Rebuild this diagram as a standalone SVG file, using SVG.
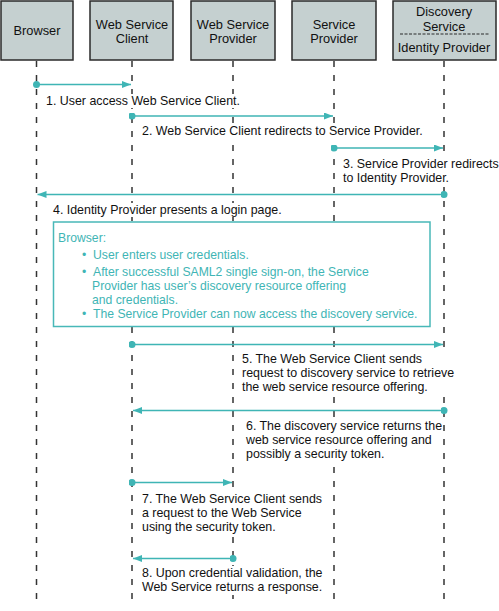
<svg xmlns="http://www.w3.org/2000/svg" width="499" height="611" viewBox="0 0 499 611">
<defs>
<marker id="ah" viewBox="0 0 10 10" refX="10" refY="5" markerWidth="9" markerHeight="7" markerUnits="userSpaceOnUse" orient="auto-start-reverse" preserveAspectRatio="none">
<path d="M0,0 L10,5 L0,10 z" fill="#3fb5b5"/>
</marker>
<marker id="dot" viewBox="0 0 8 8" refX="4" refY="4" markerWidth="7" markerHeight="7" markerUnits="userSpaceOnUse">
<circle cx="4" cy="4" r="4" fill="#3fb5b5"/>
</marker>
</defs>
<style>
.box{fill:#c5d0d0;stroke:#2a2a2a;stroke-width:1.5}
.life{stroke:#333;stroke-width:1.5;stroke-dasharray:6,8;fill:none}
.msg{stroke:#3fb5b5;stroke-width:1.5;fill:none}
.bg{fill:#fff}
.t{font-family:"Liberation Sans",Arial,sans-serif;font-size:12.4px;fill:#111}
.h{font-family:"Liberation Sans",Arial,sans-serif;font-size:12.8px;fill:#111;text-anchor:middle}
.n{font-family:"Liberation Sans",Arial,sans-serif;font-size:12.2px;fill:#3fb5b5}
</style>
<rect width="499" height="611" fill="#fff"/>
<g id="lifelines">
<line class="life" x1="36.5" y1="61" x2="36.5" y2="605"/>
<line class="life" x1="132" y1="61" x2="132" y2="605"/>
<line class="life" x1="233" y1="61" x2="233" y2="605"/>
<line class="life" x1="334" y1="61" x2="334" y2="605"/>
<line class="life" x1="444" y1="61" x2="444" y2="605"/>
</g>
<g id="browser">
<rect class="box" x="1" y="1" width="72" height="59"/>
<text class="h" x="37" y="35">Browser</text>
</g>
<g id="ws-client">
<rect class="box" x="90" y="1" width="83" height="59"/>
<text class="h" x="132" y="29">Web Service</text>
<text class="h" x="132" y="43">Client</text>
</g>
<g id="ws-provider">
<rect class="box" x="191" y="1" width="84" height="59"/>
<text class="h" x="233" y="29">Web Service</text>
<text class="h" x="233" y="43">Provider</text>
</g>
<g id="service-provider">
<rect class="box" x="292" y="1" width="84" height="59"/>
<text class="h" x="334" y="29">Service</text>
<text class="h" x="334" y="43">Provider</text>
</g>
<g id="discovery">
<rect class="box" x="393" y="1" width="103" height="59"/>
<text class="h" x="444" y="16">Discovery</text>
<text class="h" x="444" y="30.5">Service</text>
<line x1="400" y1="34" x2="489" y2="34" stroke="#2a2a2a" stroke-width="1.2" stroke-dasharray="3,1.5"/>
<text class="h" x="444" y="52">Identity Provider</text>
</g>
<g id="connectors">
<line class="msg" x1="36.5" y1="84.5" x2="131" y2="84.5" marker-start="url(#dot)" marker-end="url(#ah)"/>
<line class="msg" x1="132" y1="116" x2="333" y2="116" marker-start="url(#dot)" marker-end="url(#ah)"/>
<line class="msg" x1="334" y1="148" x2="443" y2="148" marker-start="url(#dot)" marker-end="url(#ah)"/>
<line class="msg" x1="444" y1="194.5" x2="37.5" y2="194.5" marker-start="url(#dot)" marker-end="url(#ah)"/>
<line class="msg" x1="132" y1="344.5" x2="443" y2="344.5" marker-start="url(#dot)" marker-end="url(#ah)"/>
<line class="msg" x1="444" y1="410.5" x2="133" y2="410.5" marker-start="url(#dot)" marker-end="url(#ah)"/>
<line class="msg" x1="132" y1="482.5" x2="232" y2="482.5" marker-start="url(#dot)" marker-end="url(#ah)"/>
<line class="msg" x1="233" y1="558.5" x2="133" y2="558.5" marker-start="url(#dot)" marker-end="url(#ah)"/>
</g>
<g id="labels">
<rect class="bg" x="44" y="94" width="198" height="14"/>
<text class="t" x="46" y="105">1. User access Web Service Client.</text>
<rect class="bg" x="140" y="125" width="283" height="14"/>
<text class="t" x="142" y="135">2. Web Service Client redirects to Service Provider.</text>
<rect class="bg" x="341" y="157" width="158" height="29"/>
<text class="t" x="343" y="168">3. Service Provider redirects</text>
<text class="t" x="343" y="182">to Identity Provider.</text>
<rect class="bg" x="51" y="203" width="231" height="14"/>
<text class="t" x="53" y="214">4. Identity Provider presents a login page.</text>
<rect class="bg" x="240" y="352" width="215" height="44"/>
<text class="t" x="242" y="363">5. The Web Service Client sends</text>
<text class="t" x="242" y="377">request to discovery service to retrieve</text>
<text class="t" x="242" y="391">the web service resource offering.</text>
<rect class="bg" x="244" y="419" width="198" height="43"/>
<text class="t" x="246" y="430">6. The discovery service returns the</text>
<text class="t" x="246" y="444">web service resource offering and</text>
<text class="t" x="246" y="458">possibly a security token.</text>
<rect class="bg" x="140" y="492" width="185" height="44"/>
<text class="t" x="142" y="503">7. The Web Service Client sends</text>
<text class="t" x="142" y="517">a request to the Web Service</text>
<text class="t" x="142" y="531">using the security token.</text>
<rect class="bg" x="140" y="566" width="187" height="29"/>
<text class="t" x="142" y="577">8.  Upon credential validation, the</text>
<text class="t" x="142" y="591">Web Service returns a response.</text>
</g>
<g id="note">
<rect x="53.5" y="222" width="376.5" height="104.5" fill="#fff" stroke="#48b8b8" stroke-width="1.5"/>
<text class="n" x="58" y="242">Browser:</text>
<text class="n" x="82" y="259" font-size="9">•</text>
<text class="n" x="93" y="259">User enters user credentials.</text>
<text class="n" x="82" y="276" font-size="9">•</text>
<text class="n" x="93" y="276">After successful SAML2 single sign-on, the Service</text>
<text class="n" x="92" y="290">Provider has user’s discovery resource offering</text>
<text class="n" x="92" y="304">and credentials.</text>
<text class="n" x="82" y="318" font-size="9">•</text>
<text class="n" x="93" y="318">The Service Provider can now access the discovery service.</text>
</g>
</svg>
